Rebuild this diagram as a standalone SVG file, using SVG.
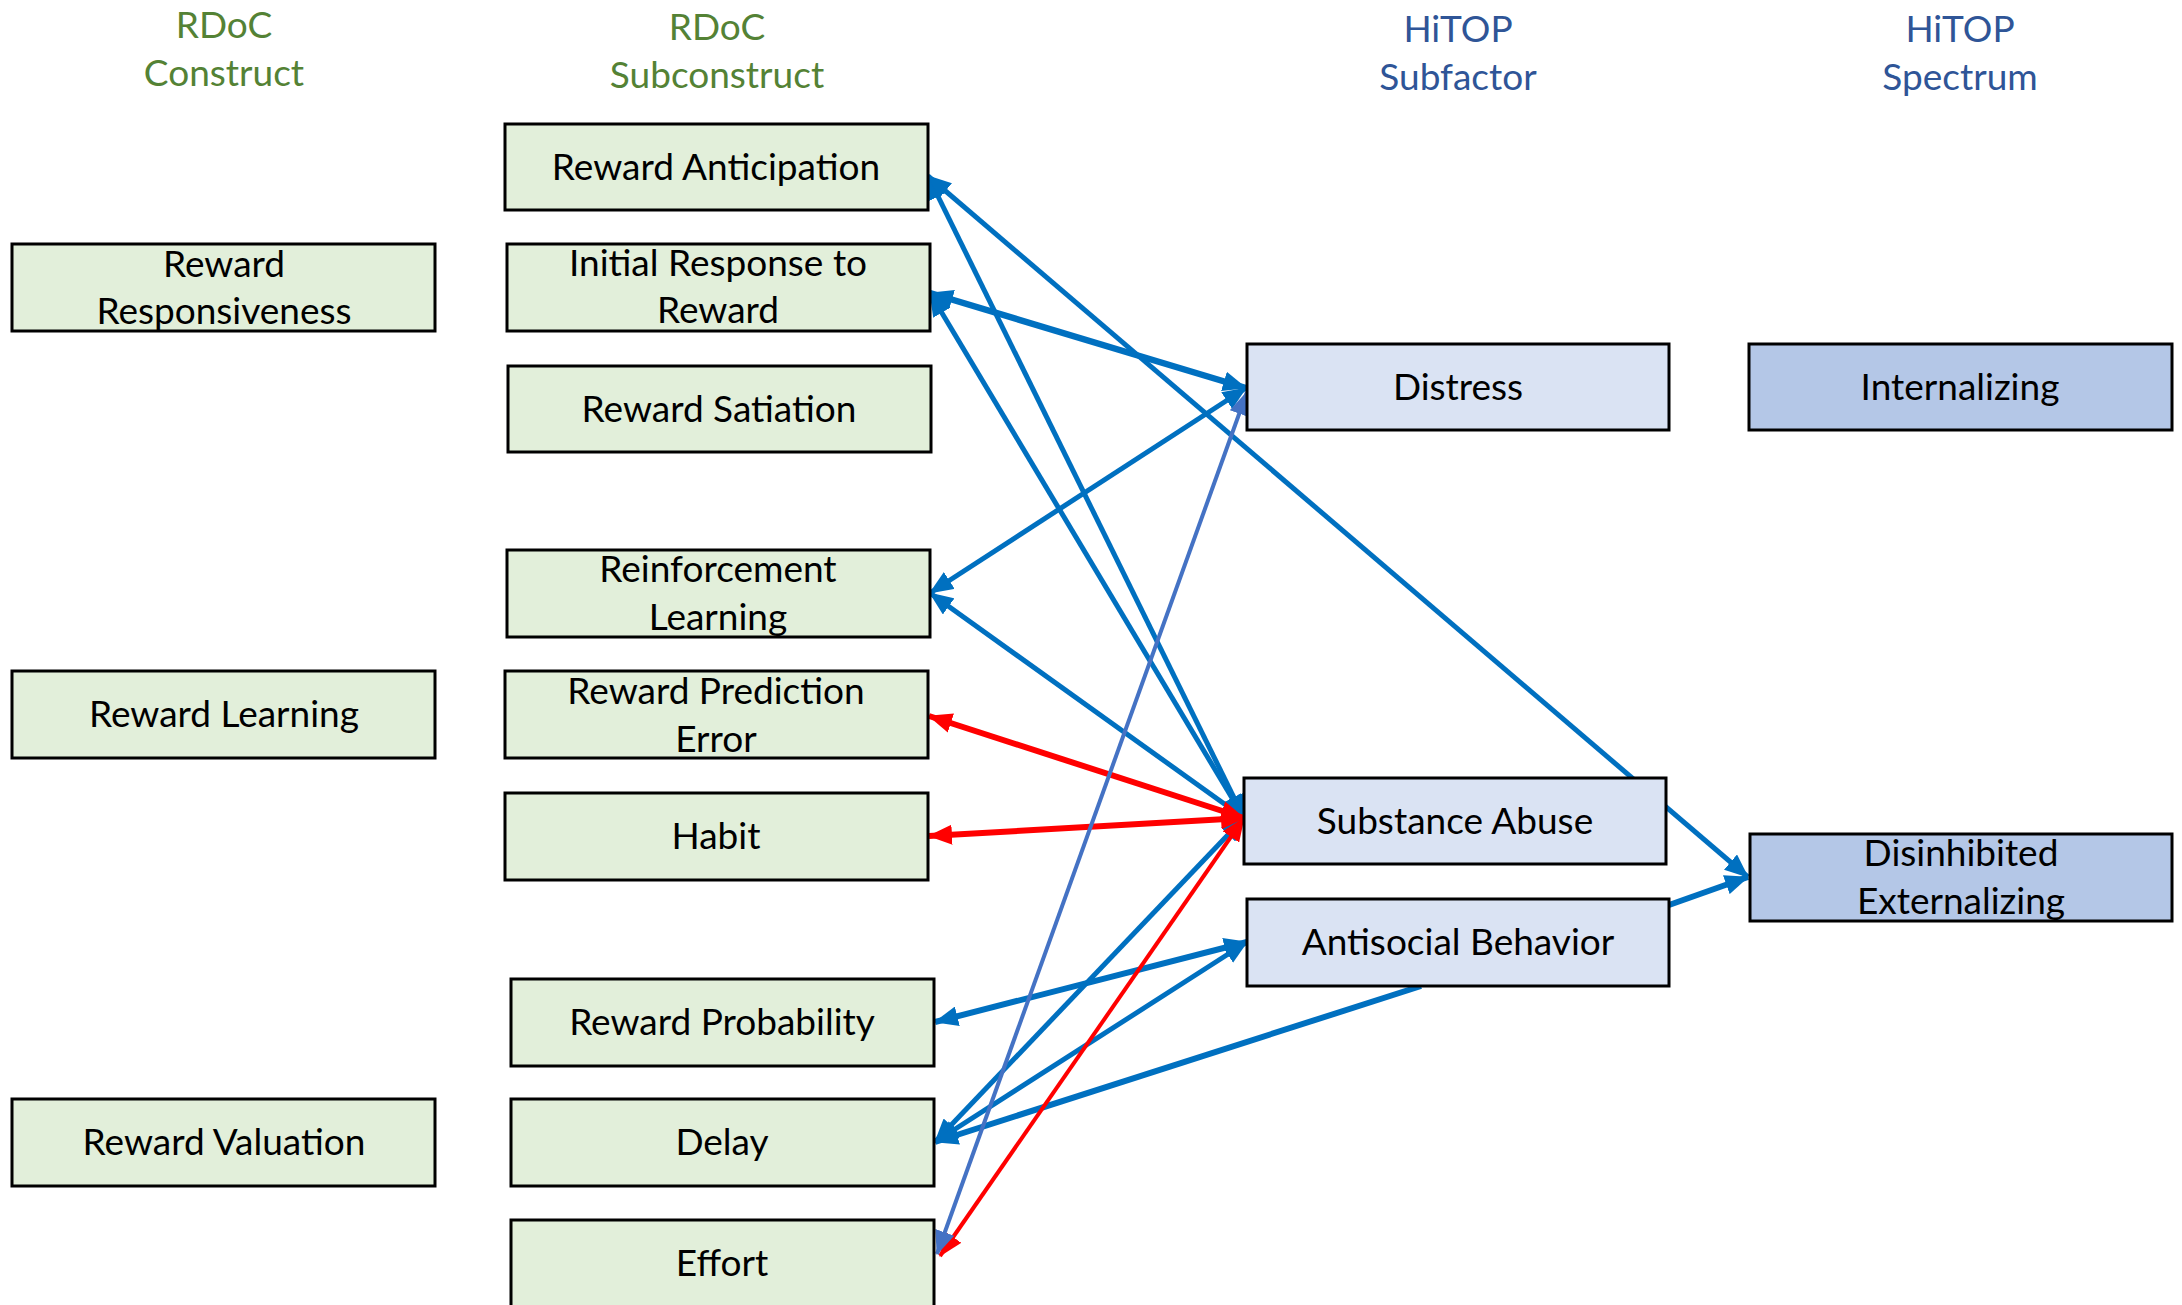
<svg xmlns="http://www.w3.org/2000/svg" width="2182" height="1305" viewBox="0 0 2182 1305">
<style>
.hg{font-family:Lato,Carlito,"Liberation Sans",sans-serif;font-size:37px;fill:#548235;text-anchor:middle}
.hb{font-family:Lato,Carlito,"Liberation Sans",sans-serif;font-size:37px;fill:#2F5597;text-anchor:middle}
.t{font-family:Lato,Carlito,"Liberation Sans",sans-serif;font-size:37px;fill:#000;text-anchor:middle}
.g{fill:#E2EFDA;stroke:#000;stroke-width:3}
.b1{fill:#DAE3F3;stroke:#000;stroke-width:3}
.b2{fill:#B4C7E7;stroke:#000;stroke-width:3}
.cb{stroke:#0070C0;fill:none;marker-start:url(#ab);marker-end:url(#ab)}
.cbe{stroke:#0070C0;fill:none;marker-end:url(#ab)}
.cl{stroke:#4472C4;fill:none;marker-start:url(#al);marker-end:url(#al)}
.cr{stroke:#FF0000;fill:none;marker-start:url(#ar);marker-end:url(#ar)}
</style>
<defs>
<marker id="ab" viewBox="0 0 24 20" refX="23" refY="10" markerWidth="24" markerHeight="20" markerUnits="userSpaceOnUse" orient="auto-start-reverse"><path d="M0,0 L24,10 L0,20 z" fill="#0070C0"/></marker>
<marker id="al" viewBox="0 0 24 20" refX="23" refY="10" markerWidth="24" markerHeight="20" markerUnits="userSpaceOnUse" orient="auto-start-reverse"><path d="M0,0 L24,10 L0,20 z" fill="#4472C4"/></marker>
<marker id="ar" viewBox="0 0 24 20" refX="23" refY="10" markerWidth="24" markerHeight="20" markerUnits="userSpaceOnUse" orient="auto-start-reverse"><path d="M0,0 L24,10 L0,20 z" fill="#FF0000"/></marker>
</defs>
<rect width="2182" height="1305" fill="#fff"/>
<g id="headers">
<text class="hg" x="224" y="38">RDoC</text><text class="hg" x="224" y="86">Construct</text>
<text class="hg" x="717" y="40">RDoC</text><text class="hg" x="717" y="88">Subconstruct</text>
<text class="hb" x="1458" y="42">HiTOP</text><text class="hb" x="1458" y="90">Subfactor</text>
<text class="hb" x="1960" y="42">HiTOP</text><text class="hb" x="1960" y="90">Spectrum</text>
</g>
<g id="connectors" stroke-linecap="butt">
<line class="cb" x1="928" y1="176" x2="1244" y2="818" stroke-width="5"/>
<line class="cb" x1="928" y1="176" x2="1748" y2="877" stroke-width="5"/>
<line class="cb" x1="930" y1="293" x2="1246" y2="388" stroke-width="6.5"/>
<line class="cb" x1="930" y1="293" x2="1244" y2="818" stroke-width="5"/>
<line class="cb" x1="930" y1="593" x2="1246" y2="388" stroke-width="5"/>
<line class="cb" x1="930" y1="593" x2="1244" y2="818" stroke-width="5"/>
<line class="cb" x1="935" y1="1142" x2="1244" y2="818" stroke-width="5"/>
<line class="cb" x1="935" y1="1022" x2="1247" y2="942" stroke-width="6"/>
<line class="cb" x1="935" y1="1142" x2="1247" y2="942" stroke-width="5"/>
<line class="cbe" x1="1421" y1="986" x2="935" y2="1142" stroke-width="6"/>
<line class="cbe" x1="1669" y1="905" x2="1748" y2="877" stroke-width="6"/>
<line class="cr" x1="929" y1="716" x2="1244" y2="818" stroke-width="6"/>
<line class="cr" x1="929" y1="836" x2="1244" y2="818" stroke-width="6"/>
<line class="cr" x1="940" y1="1256" x2="1244" y2="818" stroke-width="4"/>
<line class="cl" x1="937" y1="1254" x2="1247" y2="392" stroke-width="4"/>
</g>
<g id="n-reward-responsiveness"><rect class="g" x="12" y="244" width="423" height="87"/><text class="t" x="224" y="277">Reward</text><text class="t" x="224" y="324">Responsiveness</text></g>
<g id="n-reward-learning"><rect class="g" x="12" y="671" width="423" height="87"/><text class="t" x="224" y="727">Reward Learning</text></g>
<g id="n-reward-valuation"><rect class="g" x="12" y="1099" width="423" height="87"/><text class="t" x="224" y="1155">Reward Valuation</text></g>
<g id="n-reward-anticipation"><rect class="g" x="505" y="124" width="423" height="86"/><text class="t" x="716" y="180">Reward Anticipation</text></g>
<g id="n-initial-response"><rect class="g" x="507" y="244" width="423" height="87"/><text class="t" x="718" y="276">Initial Response to</text><text class="t" x="718" y="323">Reward</text></g>
<g id="n-reward-satiation"><rect class="g" x="508" y="366" width="423" height="86"/><text class="t" x="719" y="422">Reward Satiation</text></g>
<g id="n-reinforcement-learning"><rect class="g" x="507" y="550" width="423" height="87"/><text class="t" x="718" y="582">Reinforcement</text><text class="t" x="718" y="630">Learning</text></g>
<g id="n-reward-prediction-error"><rect class="g" x="505" y="671" width="423" height="87"/><text class="t" x="716" y="704">Reward Prediction</text><text class="t" x="716" y="752">Error</text></g>
<g id="n-habit"><rect class="g" x="505" y="793" width="423" height="87"/><text class="t" x="716" y="849">Habit</text></g>
<g id="n-reward-probability"><rect class="g" x="511" y="979" width="423" height="87"/><text class="t" x="722" y="1035">Reward Probability</text></g>
<g id="n-delay"><rect class="g" x="511" y="1099" width="423" height="87"/><text class="t" x="722" y="1155">Delay</text></g>
<g id="n-effort"><rect class="g" x="511" y="1220" width="423" height="90"/><text class="t" x="722" y="1276">Effort</text></g>
<g id="n-distress"><rect class="b1" x="1247" y="344" width="422" height="86"/><text class="t" x="1458" y="400">Distress</text></g>
<g id="n-substance-abuse"><rect class="b1" x="1244" y="778" width="422" height="86"/><text class="t" x="1455" y="834">Substance Abuse</text></g>
<g id="n-antisocial-behavior"><rect class="b1" x="1247" y="899" width="422" height="87"/><text class="t" x="1458" y="955">Antisocial Behavior</text></g>
<g id="n-internalizing"><rect class="b2" x="1749" y="344" width="423" height="86"/><text class="t" x="1960" y="400">Internalizing</text></g>
<g id="n-disinhibited-externalizing"><rect class="b2" x="1750" y="834" width="422" height="87"/><text class="t" x="1961" y="866">Disinhibited</text><text class="t" x="1961" y="914">Externalizing</text></g>
</svg>
